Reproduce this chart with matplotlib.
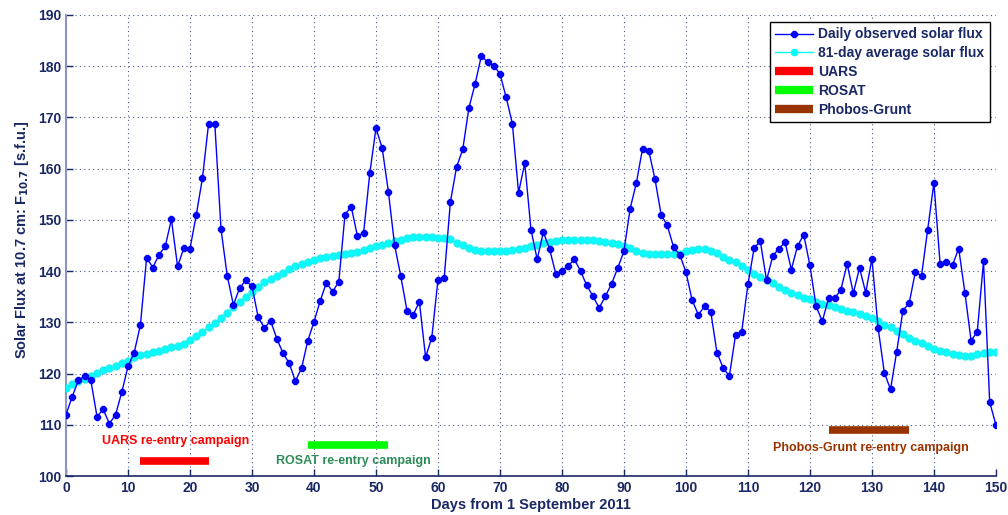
import matplotlib
matplotlib.use("Agg")
import matplotlib.pyplot as plt
from matplotlib.lines import Line2D
import numpy as np

plt.rcParams['font.family'] = ['Liberation Sans', 'DejaVu Sans']
plt.rcParams['font.weight'] = 'bold'

days = list(range(0, 151))

daily_flux = [
    112.0, 115.5, 118.7, 119.5, 118.7, 111.6, 113.0, 110.2, 112.0, 116.4,
    121.4, 124.1, 129.5, 142.6, 140.7, 143.2, 144.8, 150.1, 140.9, 144.5,
    144.4, 150.9, 158.1, 168.8, 168.8, 148.2, 139.1, 133.4, 136.7, 138.2,
    137.0, 131.0, 128.9, 130.3, 126.8, 124.0, 122.0, 118.5, 121.1, 126.4,
    130.1, 134.2, 137.7, 136.0, 137.9, 151.0, 152.6, 146.9, 147.4, 159.1,
    167.9, 164.0, 155.5, 145.1, 139.0, 132.3, 131.5, 134.0, 123.2, 127.0,
    138.3, 138.6, 153.5, 160.3, 163.8, 171.9, 176.6, 182.0, 180.8, 180.1,
    178.5, 173.9, 168.8, 155.3, 161.1, 148.1, 142.3, 147.6, 144.3, 139.5,
    140.0, 141.0, 142.3, 140.0, 137.2, 135.1, 132.8, 135.1, 137.5, 140.6,
    143.9, 152.2, 157.2, 163.9, 163.5, 158.0, 151.0, 148.9, 144.7, 143.2,
    139.8, 134.3, 131.5, 133.1, 132.1, 124.1, 121.1, 119.5, 127.5, 128.2,
    137.4, 144.5, 145.8, 138.2, 142.9, 144.4, 145.6, 140.3, 144.9, 147.1,
    141.1, 133.1, 130.2, 134.7, 134.7, 136.4, 141.4, 135.7, 140.6, 135.8,
    142.4, 128.9, 120.2, 116.9, 124.3, 132.3, 133.7, 139.8, 139.1, 148.1,
    157.2, 141.4, 141.7, 141.2, 144.4, 135.8, 126.4, 128.2, 141.9, 114.4,
    110.0,
]

avg_flux = [
    117.2, 117.9, 118.5, 119.0, 119.5, 120.1, 120.6, 121.0, 121.4, 122.1,
    122.5, 123.2, 123.6, 123.9, 124.2, 124.4, 124.7, 125.1, 125.3, 125.8,
    126.5, 127.3, 128.1, 129.1, 129.9, 130.8, 131.9, 133.0, 133.9, 134.9,
    135.9, 136.9, 137.8, 138.4, 139.1, 139.7, 140.4, 140.9, 141.4, 141.8,
    142.2, 142.5, 142.7, 142.9, 143.1, 143.3, 143.5, 143.8, 144.2, 144.5,
    144.8, 145.1, 145.5, 145.8, 146.1, 146.4, 146.6, 146.6, 146.6, 146.6,
    146.5, 146.4, 146.2, 145.5, 145.1, 144.6, 144.2, 144.0, 143.9, 143.9,
    144.0, 144.0, 144.2, 144.3, 144.6, 144.8, 145.1, 145.5, 145.7, 145.9,
    146.0, 146.0, 146.0, 146.0, 146.0, 146.0, 145.9, 145.7, 145.5, 145.3,
    144.9, 144.6, 143.9, 143.6, 143.4, 143.4, 143.4, 143.4, 143.4, 143.4,
    143.9, 144.2, 144.4, 144.4, 144.0, 143.5, 142.7, 142.2, 141.8, 141.0,
    140.3, 139.5, 138.8, 138.2, 137.7, 136.9, 136.4, 135.8, 135.3, 134.8,
    134.5, 134.0, 133.6, 133.3, 133.0, 132.6, 132.3, 132.1, 131.7, 131.3,
    130.8, 130.2, 129.5, 129.0, 128.4, 127.7, 126.9, 126.4, 125.9, 125.4,
    124.8, 124.4, 124.2, 123.8, 123.6, 123.5, 123.5, 123.8, 124.0, 124.2,
    124.3,
]

campaign_names = ['UARS', 'ROSAT', 'Phobos-Grunt']
campaign_start = [12, 39, 123]
campaign_end = [23, 52, 136]
campaign_level = [103.0, 106.0, 109.0]
campaign_text = ['UARS re-entry campaign', 'ROSAT re-entry campaign',
                 'Phobos-Grunt re-entry campaign']
campaign_text_x = [17.7, 46.3, 129.8]
campaign_text_y = [106.8, 102.9, 105.4]
campaign_colors = ['#ff0000', '#00ff00', '#993300']
campaign_text_colors = ['#ff0000', '#2e8b57', '#993300']

x_ticks = list(range(0, 151, 10))
y_ticks = list(range(100, 191, 10))

navy = '#1a2866'

fig = plt.figure(figsize=(10.08, 5.15), dpi=100)
ax = fig.add_axes([0.0655, 0.0757, 0.9225, 0.8953])

ax.plot(days, avg_flux, color='#00ffff', lw=1.0, marker='o', ms=5,
        markeredgecolor='#22eeee', zorder=3)
ax.plot(days, daily_flux, color='#0000ff', lw=1.0, marker='8', ms=4.8,
        markeredgecolor='#0000ee', zorder=4)

for s, e, lv, c in zip(campaign_start, campaign_end, campaign_level, campaign_colors):
    ax.plot([s, e], [lv, lv], color=c, lw=5.5, solid_capstyle='butt', zorder=2)

for t, tx, ty, c in zip(campaign_text, campaign_text_x, campaign_text_y, campaign_text_colors):
    ax.text(tx, ty, t, color=c, fontsize=9.0, fontweight='bold',
            ha='center', va='center')

ax.set_xlim(0, 150)
ax.set_ylim(100, 190)
ax.set_xticks(x_ticks)
ax.set_yticks(y_ticks)
ax.tick_params(direction='in', length=5, colors=navy, labelsize=10, width=1)
for lab in ax.get_xticklabels() + ax.get_yticklabels():
    lab.set_fontweight('bold')
ax.grid(True, linestyle=(0, (1, 3)), color='#4a5a8a', lw=0.8)

ax.spines['top'].set_visible(False)
ax.spines['right'].set_visible(False)
ax.spines['left'].set_color('#8a96c0')
ax.spines['left'].set_linewidth(1.5)
ax.spines['bottom'].set_color(navy)
ax.spines['bottom'].set_linewidth(1.2)

ax.set_xlabel('Days from 1 September 2011', fontsize=10.5, fontweight='bold',
              color=navy, labelpad=2)
ax.set_ylabel('Solar Flux at 10.7 cm: F$_{\\mathbf{10.7}}$ [s.f.u.]', fontsize=10.5,
              fontweight='bold', color=navy)
ax.yaxis.set_label_coords(-0.038, 0.513)

handles = [
    Line2D([], [], color='#0000ff', lw=1.0, marker='8', ms=4.5),
    Line2D([], [], color='#00ffff', lw=1.0, marker='o', ms=4.5),
]
for c in campaign_colors:
    handles.append(Line2D([], [], color=c, lw=6, solid_capstyle='butt'))
labels = ['Daily observed solar flux', '81-day average solar flux'] + campaign_names
leg = ax.legend(handles, labels, loc='upper right', bbox_to_anchor=(0.9935, 0.985),
                borderaxespad=0, fancybox=False, framealpha=1, edgecolor='black',
                prop={'weight': 'bold', 'size': 10}, handlelength=2.7,
                labelspacing=0.35, borderpad=0.4, handletextpad=0.4)
leg.get_frame().set_linewidth(1.0)
for t in leg.get_texts():
    t.set_color(navy)

fig.savefig('out.png', dpi=100)
